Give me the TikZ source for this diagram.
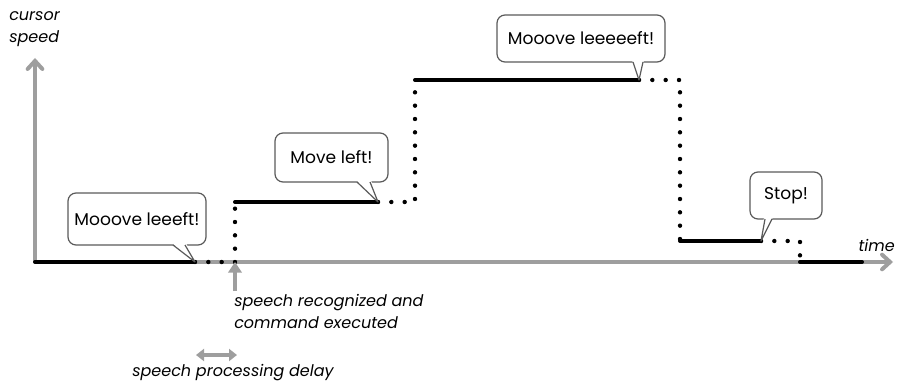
\documentclass[tikz,border=0pt]{standalone}
\usepackage{fontspec}
\setmainfont{Poppins}
\usetikzlibrary{arrows.meta, positioning}
\definecolor{axisgray}{RGB}{158,158,158}
\definecolor{bubblegray}{RGB}{90,90,90}
\tikzset{
  axis/.style={line width=3pt, color=axisgray, -{Straight Barb[length=6pt, width=11pt, line cap=round]}},
  pointer/.style={line width=3pt, color=axisgray},
  speed/.style={line width=3pt, line cap=round, color=black},
  waiting/.style={line width=3.3pt, line cap=round, dash pattern=on 0pt off 10pt, color=black},
  bubble/.style={rectangle, draw=bubblegray, fill=white, rounded corners=6pt, line width=0.9pt, font=\fontsize{12.8}{15}\selectfont},
  tail/.style={draw=bubblegray, line width=0.9pt, line join=round},
  note/.style={font=\fontsize{12}{16.5}\selectfont\itshape, align=left, inner sep=0pt}
}

\begin{document}
\begin{tikzpicture}[x=0.75pt, y=-0.75pt]
  \useasboundingbox (0,0) rectangle (898,385);

  % Axes
  \coordinate (origin) at (35,262);
  \coordinate (ytop) at (35,58);
  \coordinate (xend) at (893,262);
  \draw[axis] (origin) -- (ytop);
  \draw[axis] (origin) -- (xend);
  \node[note, anchor=west] (ylabel) at (9,29) {cursor\\speed};
  \node[note, anchor=east] (xlabel) at (895,245) {time};

  % Speed profile
  \coordinate (s0) at (35,262);
  \coordinate (s1) at (195,262);
  \coordinate (r1) at (235,262);
  \coordinate (a1) at (235,202);
  \coordinate (s2) at (378,202);
  \coordinate (r2) at (415,202);
  \coordinate (a2) at (415,80);
  \coordinate (s3) at (639,80);
  \coordinate (r3) at (680,80);
  \coordinate (a3) at (680,241);
  \coordinate (s4) at (761,241);
  \coordinate (r4) at (800,241);
  \coordinate (a4) at (800,262);
  \coordinate (s5) at (862,262);
  \draw[speed] (s0) -- (s1);
  \draw[waiting] (s1) -- (r1) -- (a1);
  \draw[speed] (a1) -- (s2);
  \draw[waiting] (s2) -- (r2) -- (a2);
  \draw[speed] (a2) -- (s3);
  \draw[waiting] (s3) -- (r3) -- (a3);
  \draw[speed] (a3) -- (s4);
  \draw[waiting] (s4) -- (r4) -- (a4);
  \draw[speed] (a4) -- (s5);

  % Speech bubbles
  \node[bubble, minimum width=103.5pt, minimum height=39pt] (say1) at (137,219) {Mooove leeeft!};
  \fill[white] (172,243) -- (s1) -- (186,243) -- cycle;
  \draw[tail] (173,245) -- (s1) -- (185,245);

  \node[bubble, minimum width=84.75pt, minimum height=36.75pt] (say2) at (331.5,157.5) {Move left!};
  \fill[white] (356,180) -- (s2) -- (371,180) -- cycle;
  \draw[tail] (357,182) -- (s2) -- (370,182);

  \node[bubble, minimum width=126pt, minimum height=35.25pt] (say3) at (581,38.5) {Mooove leeeeeft!};
  \fill[white] (632,60) -- (s3) -- (644,60) -- cycle;
  \draw[tail] (633,62) -- (s3) -- (643,62);

  \node[bubble, minimum width=54pt, minimum height=35.25pt] (say4) at (786,195.5) {Stop!};
  \fill[white] (764,217) -- (s4) -- (773,217) -- cycle;
  \draw[tail] (765,219) -- (s4) -- (772,219);

  % Recognition marker
  \coordinate (recog) at (235,291);
  \draw[pointer, -{Triangle[length=8pt, width=10pt]}] (recog) -- (r1);
  \node[note, anchor=north west] (recoglabel) at (234,294) {speech recognized and\\command executed};

  % Processing delay
  \coordinate (dstart) at (196,355);
  \coordinate (dend) at (237,355);
  \draw[pointer, line width=2.6pt, {Triangle[length=6pt, width=9pt]}-{Triangle[length=6pt, width=9pt]}] (dstart) -- (dend);
  \node[note, anchor=west] (delaylabel) at (132,373) {speech processing delay};
\end{tikzpicture}
\end{document}
